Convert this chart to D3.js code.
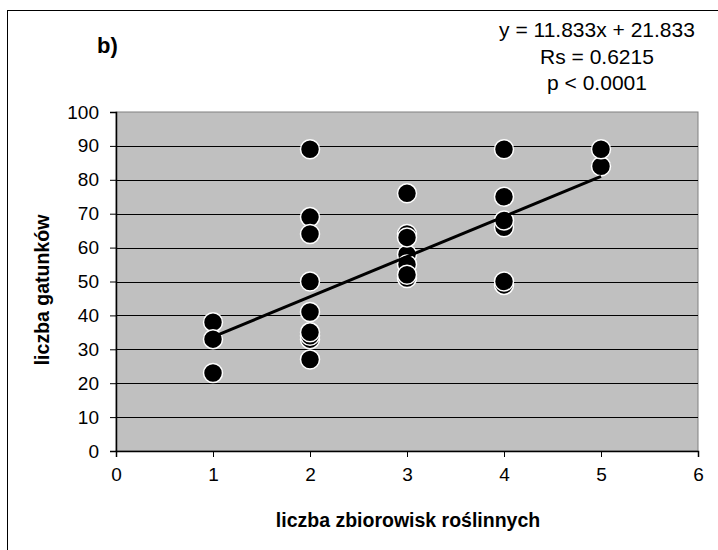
<!DOCTYPE html>
<html>
<head>
<meta charset="utf-8">
<script src="https://cdn.jsdelivr.net/npm/d3@7"></script>
<style>
  html, body { margin: 0; padding: 0; background: #fff; }
  svg { display: block; font-family: "Liberation Sans", Arial, sans-serif; }
</style>
</head>
<body>
<svg id="chart" width="718" height="550"></svg>
<script>
// Number of plant communities (x) and number of species (y) per site,
// listed in drawing order
const communities = [1, 1, 1,
  2, 2, 2, 2, 2, 2, 2, 2, 2,
  3, 3, 3, 3, 3, 3, 3,
  4, 4, 4, 4, 4, 4,
  5, 5];
const species = [38, 23, 33,
  89, 69, 64, 50, 41, 27, 33, 34, 35,
  76, 58, 64, 63, 55, 51, 52,
  89, 75, 66, 68, 49, 50,
  84, 89];

// Linear trend: y = slope * x + intercept
const slope = 11.833;
const intercept = 21.833;
const trendRange = [1, 5];

const xTicks = [0, 1, 2, 3, 4, 5, 6];
const yTicks = [0, 10, 20, 30, 40, 50, 60, 70, 80, 90, 100];
const statLines = ["y = 11.833x + 21.833", "Rs = 0.6215", "p < 0.0001"];

const svg = d3.select("#chart");

// outer frame
svg.append("rect")
  .attr("x", 7.5).attr("y", 10.5)
  .attr("width", 800).attr("height", 600)
  .attr("fill", "none").attr("stroke", "#000").attr("stroke-width", 1);

const x = d3.scaleLinear().domain([0, 6]).range([116, 698]);
const y = d3.scaleLinear().domain([0, 100]).range([451, 112]);

// plot area
svg.append("rect")
  .attr("x", x(0)).attr("y", y(100))
  .attr("width", x(6) - x(0)).attr("height", y(0) - y(100))
  .attr("fill", "#c0c0c0").attr("stroke", "#808080").attr("stroke-width", 1);

// horizontal gridlines
svg.append("g")
  .selectAll("line")
  .data(yTicks.filter(t => t > 0 && t < 100))
  .join("line")
  .attr("x1", x(0)).attr("x2", x(6))
  .attr("y1", d => Math.round(y(d)) + 0.5).attr("y2", d => Math.round(y(d)) + 0.5)
  .attr("stroke", "#000").attr("stroke-width", 1);

// axes
const xAxis = svg.append("g")
  .attr("transform", `translate(0,${y(0)})`)
  .call(d3.axisBottom(x).tickValues(xTicks).tickSize(6).tickPadding(11).tickFormat(d3.format("d")));
const yAxis = svg.append("g")
  .attr("transform", `translate(${x(0)},0)`)
  .call(d3.axisLeft(y).tickValues(yTicks).tickSize(6).tickPadding(11).tickFormat(d3.format("d")));

[xAxis, yAxis].forEach(g => {
  g.select(".domain").attr("stroke", "#000").attr("stroke-width", 1.5);
  g.selectAll(".tick line").attr("stroke", "#000").attr("stroke-width", 1);
  g.selectAll(".tick text")
    .attr("fill", "#000")
    .attr("font-size", 19)
    .attr("font-family", "Liberation Sans, Arial, sans-serif");
});

// points
svg.append("g")
  .selectAll("circle")
  .data(communities.map((c, i) => ({ c, s: species[i] })))
  .join("circle")
  .attr("cx", d => x(d.c))
  .attr("cy", d => y(d.s))
  .attr("r", 9.5)
  .attr("fill", "#000")
  .attr("stroke", "#fff")
  .attr("stroke-width", 1.5);

// trend line
svg.append("line")
  .attr("x1", x(trendRange[0])).attr("y1", y(slope * trendRange[0] + intercept))
  .attr("x2", x(trendRange[1])).attr("y2", y(slope * trendRange[1] + intercept))
  .attr("stroke", "#000").attr("stroke-width", 3);

// axis titles
svg.append("text")
  .attr("x", 408).attr("y", 527)
  .attr("text-anchor", "middle")
  .attr("font-size", 19.5).attr("font-weight", "bold")
  .text("liczba zbiorowisk roślinnych");

svg.append("text")
  .attr("transform", "translate(49,290) rotate(-90)")
  .attr("text-anchor", "middle")
  .attr("font-size", 19.5).attr("font-weight", "bold")
  .text("liczba gatunków");

// panel label
svg.append("text")
  .attr("x", 97).attr("y", 53)
  .attr("font-size", 22).attr("font-weight", "bold")
  .text("b)");

// regression statistics
svg.append("g")
  .selectAll("text")
  .data(statLines)
  .join("text")
  .attr("x", 597).attr("y", (d, i) => 37 + i * 26.5)
  .attr("text-anchor", "middle")
  .attr("font-size", 21)
  .text(d => d);
</script>
</body>
</html>
